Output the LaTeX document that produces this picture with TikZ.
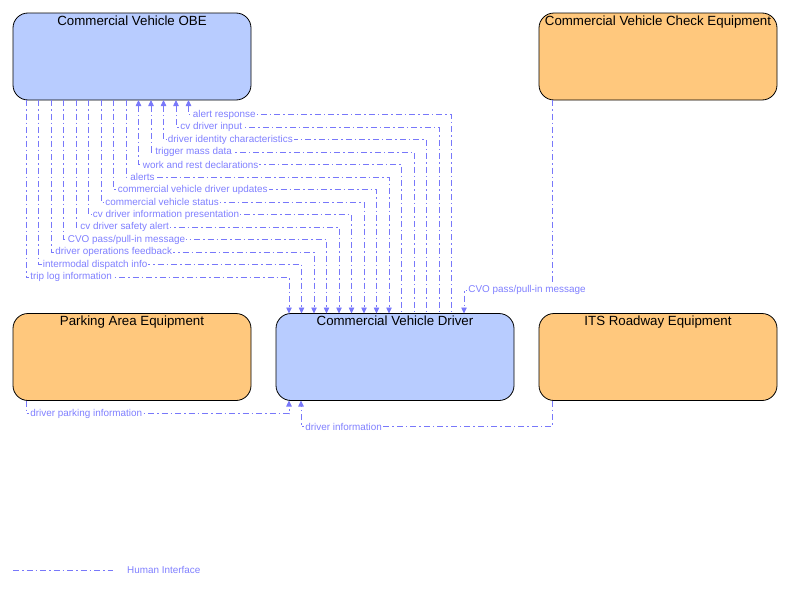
\documentclass[tikz,border=0pt]{standalone}
\usepackage{fontspec}
\setmainfont{Liberation Sans}
\usepackage{xcolor}
\usetikzlibrary{arrows.meta, calc}

\definecolor{obeblue}{RGB}{184,204,255}
\definecolor{eqorange}{RGB}{255,200,125}
\definecolor{flowblue}{RGB}{120,120,250}
\definecolor{labelblue}{RGB}{128,128,255}

\begin{document}
\begin{tikzpicture}[
    x=1pt, y=-1pt,
    element/.style={rectangle, draw, line width=0.8pt, rounded corners=15pt, minimum width=238pt, minimum height=87pt, outer sep=0pt},
    title/.style={anchor=north, inner sep=2.5pt, font=\fontsize{13.3}{15}\selectfont},
    flow/.style={draw=flowblue, line width=0.8pt, dash pattern=on 6pt off 3pt on 1.5pt off 3pt},
    tip/.style={-{Triangle[length=6pt, width=5.5pt]}},
    tipback/.style={{Triangle[length=6pt, width=5.5pt]}-},
    flowlabel/.style={anchor=west, fill=white, inner sep=1pt, xshift=3pt, text=labelblue, font=\fontsize{9.9}{11}\selectfont}
]
\useasboundingbox (0,0) rectangle (787,589);

% Elements
\node[element, fill=obeblue] (obe) at (132,56.5) {};
\node[title] (obe-t) at (obe.north) {Commercial Vehicle OBE};
\node[element, fill=eqorange] (chk) at (658,56.5) {};
\node[title] (chk-t) at (chk.north) {Commercial Vehicle Check Equipment};
\node[element, fill=eqorange] (park) at (132,357) {};
\node[title] (park-t) at (park.north) {Parking Area Equipment};
\node[element, fill=obeblue] (drv) at (395,357) {};
\node[title] (drv-t) at (drv.north) {Commercial Vehicle Driver};
\node[element, fill=eqorange] (its) at (658,357) {};
\node[title] (its-t) at (its.north) {ITS Roadway Equipment};

% OBE to driver
\foreach \i/\txt in {0/trip log information, 1/intermodal dispatch info, 2/driver operations feedback,
    3/{CVO pass/pull-in message}, 4/cv driver safety alert, 5/cv driver information presentation,
    6/commercial vehicle status, 7/commercial vehicle driver updates, 8/alerts} {
  \coordinate (a\i) at ($(obe.south west)+(13+12.5*\i,0)$);
  \coordinate (b\i) at ($(drv.north west)+(13+12.5*\i,0)$);
  \draw[flow, tip] (a\i) -- ++(0,177-12.5*\i) node[flowlabel] (f\i) {\txt} -| (b\i);
}

% driver to OBE
\foreach \i/\txt in {9/work and rest declarations, 10/trigger mass data, 11/driver identity characteristics,
    12/cv driver input, 13/alert response} {
  \coordinate (a\i) at ($(obe.south west)+(13+12.5*\i,0)$);
  \coordinate (b\i) at ($(drv.north west)+(13+12.5*\i,0)$);
  \draw[flow, tipback] (a\i) -- ++(0,177-12.5*\i) node[flowlabel] (f\i) {\txt} -| (b\i);
}

% Check equipment to driver
\coordinate (c0) at ($(chk.south west)+(13,0)$);
\coordinate (d0) at ($(drv.north west)+(188,0)$);
\draw[flow, tip] (c0) -- ++(0,190) -| node[pos=0.5, flowlabel] (fchk) {CVO pass/pull-in message} (d0);

% Parking and roadway to driver
\coordinate (p0) at ($(park.south west)+(13,0)$);
\coordinate (d1) at ($(drv.south west)+(13,0)$);
\draw[flow, tip] (p0) -- ++(0,13) node[flowlabel] (fpark) {driver parking information} -| (d1);
\coordinate (r0) at ($(its.south west)+(13,0)$);
\coordinate (d2) at ($(drv.south west)+(25,0)$);
\draw[flow, tip] (r0) -- ++(0,26) -| node[pos=0.5, flowlabel] (fits) {driver information} (d2);

% Legend
\coordinate (lg0) at (13,570);
\coordinate (lg1) at (113,570);
\draw[flow] (lg0) -- (lg1);
\node[flowlabel] (lgt) at (123,570) {Human Interface};

\end{tikzpicture}
\end{document}
